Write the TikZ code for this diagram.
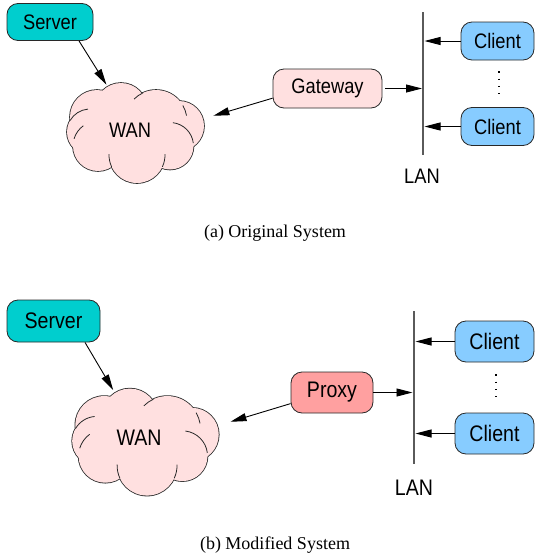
\documentclass[tikz,border=0pt]{standalone}
\usepackage{fontspec}
\usetikzlibrary{arrows.meta,shapes.geometric}
\newfontfamily\figfont[FakeStretch=0.87]{Liberation Sans}
\newfontfamily\capfont{Liberation Serif}
\definecolor{servercol}{RGB}{0,206,206}
\definecolor{clientcol}{RGB}{135,204,255}
\definecolor{pinkcol}{RGB}{255,224,224}
\definecolor{proxycol}{RGB}{255,160,160}
\definecolor{edgecol}{RGB}{40,40,40}
\definecolor{lancol}{RGB}{90,90,90}
\tikzset{
  boxa/.style={draw=edgecol, line width=0.8pt, rounded corners=11pt, inner sep=0pt,
    font=\figfont\fontsize{21}{24}\selectfont},
  boxb/.style={boxa, font=\figfont\fontsize{22.5}{26}\selectfont},
  conn/.style={line width=0.9pt, -{Triangle[length=16pt,width=8pt]}},
  lanline/.style={draw=lancol, line width=1.2pt},
  dotsline/.style={line width=1.1pt, dash pattern=on 1.1pt off 6.2pt},
  caption/.style={font=\capfont\fontsize{18}{20}\selectfont},
  % cloud: union of puffs, outlined, plus a few inner puff edges
  pics/wancloud/.style={code={
    \foreach \cx/\cy/\r in {-39/-15/27, -15/-23/26, 20/-11/31, 43/-6/25,
                            34/14/23.5, 1/23/28, -38/14/25, -46/0/23}
      {\path[draw=edgecol, line width=1.6pt] (\cx,\cy) circle (\r);}
    \foreach \cx/\cy/\r in {-39/-15/27, -15/-23/26, 20/-11/31, 43/-6/25,
                            34/14/23.5, 1/23/28, -38/14/25, -46/0/23}
      {\fill[pinkcol] (\cx,\cy) circle (\r);}
    \foreach \cx/\cy/\r/\sa/\ea in {-46/0/23/210/265, -38/14/25/197/234,
                                    1/23/28/155/182, 1/23/28/-2/25,
                                    34/14/23.5/-83/-7, 20/-11/31/-30/-10,
                                    20/-11/31/225/245}
      {\draw[edgecol, line width=0.8pt] (\cx,\cy) ++(\sa:\r)
          arc[start angle=\sa, end angle=\ea, radius=\r];}
  }}
}
\begin{document}
\begin{tikzpicture}[x=1pt, y=-1pt]
\useasboundingbox (0,0) rectangle (535,557);

% ---------- (a) original system ----------
\pic at (136,132) {wancloud};
\node[ellipse, minimum width=136pt, minimum height=99pt, inner sep=0pt] (wanA) at (136,132) {};
\node[font=\figfont\fontsize{21}{24}\selectfont] (wanAtxt) at (130,130) {WAN};

\node[boxa, fill=servercol, minimum width=86pt, minimum height=37pt] (srvA) at (50,22) {Server};
\node[boxa, fill=pinkcol, minimum width=109pt, minimum height=39pt] (gwA) at (327.5,88.5) {Gateway};
\node[boxa, fill=clientcol, minimum width=73pt, minimum height=38pt] (cliA1) at (497.5,41) {Client};
\node[boxa, fill=clientcol, minimum width=73pt, minimum height=38pt] (cliA2) at (497.5,126.5) {Client};

\coordinate (lanAtop) at (423,12);
\coordinate (lanAbot) at (423,155);
\draw[lanline] (lanAtop) -- (lanAbot);
\node[font=\figfont\fontsize{21}{24}\selectfont] (lanA) at (422,176) {LAN};

\draw[conn, shorten >=2.5pt] ([xshift=29pt]srvA.south) -- (wanA.122);
\draw[conn, shorten >=12pt] (gwA.190) -- (wanA.11);
\draw[conn, shorten <=3pt, shorten >=1pt] (gwA.east) -- (gwA.east -| lanAtop);
\draw[conn, shorten >=1.5pt] (cliA1.west) -- (cliA1.west -| lanAtop);
\draw[conn, shorten >=1.5pt] (cliA2.west) -- (cliA2.west -| lanAtop);
\draw[dotsline, shorten <=11pt, shorten >=11pt] ([xshift=1.5pt]cliA1.south) -- ([xshift=1.5pt]cliA2.north);

\node[caption] (capA) at (275,233) {(a) Original System};

% ---------- (b) modified system ----------
\pic[scale=1.07] at (146,441) {wancloud};
\node[ellipse, minimum width=146pt, minimum height=104pt, inner sep=0pt] (wanB) at (146,441) {};
\node[font=\figfont\fontsize{22.5}{26}\selectfont] (wanBtxt) at (139,438) {WAN};

\node[boxb, fill=servercol, minimum width=93pt, minimum height=42pt] (srvB) at (53.5,321) {Server};
\node[boxb, fill=proxycol, minimum width=82pt, minimum height=41pt] (prB) at (332,392.5) {Proxy};
\node[boxb, fill=clientcol, minimum width=79pt, minimum height=41pt] (cliB1) at (494.5,341.5) {Client};
\node[boxb, fill=clientcol, minimum width=79pt, minimum height=41pt] (cliB2) at (494.5,433.5) {Client};

\coordinate (lanBtop) at (414,311);
\coordinate (lanBbot) at (414,464);
\draw[lanline] (lanBtop) -- (lanBbot);
\node[font=\figfont\fontsize{22.5}{26}\selectfont] (lanB) at (414,488) {LAN};

\draw[conn, shorten >=4pt] ([xshift=31.5pt]srvB.south) -- (wanB.123);
\draw[conn, shorten >=15pt] (prB.195) -- (wanB.12.6);
\draw[conn, shorten >=1.5pt] (prB.east) -- (prB.east -| lanBtop);
\draw[conn, shorten >=1.5pt] (cliB1.west) -- (cliB1.west -| lanBtop);
\draw[conn, shorten >=1.5pt] (cliB2.west) -- (cliB2.west -| lanBtop);
\draw[dotsline, shorten <=12pt, shorten >=12pt] ([xshift=1.5pt]cliB1.south) -- ([xshift=1.5pt]cliB2.north);

\node[caption] (capB) at (275,545) {(b) Modified System};
\end{tikzpicture}
\end{document}
